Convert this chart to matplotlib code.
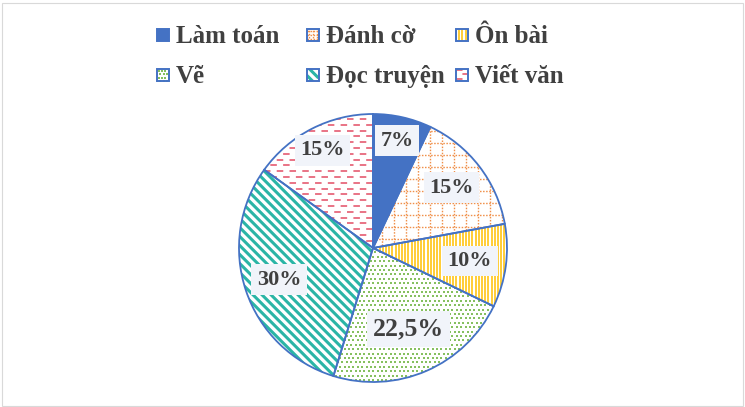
import matplotlib
matplotlib.use("Agg")
import numpy as np
import matplotlib.pyplot as plt
from matplotlib.patches import Rectangle
from matplotlib.collections import LineCollection

# dữ liệu
labels = ["Làm toán", "Đánh cờ", "Ôn bài", "Vẽ", "Đọc truyện", "Viết văn"]
values = [7, 15, 10, 22.5, 30, 15]
value_text = ["7%", "15%", "10%", "22,5%", "30%", "15%"]

# style
patterns = ["solid", "grid", "vlines", "dots", "diag", "dashes"]
label_dist = [0.82, 0.74, 0.73, 0.66, 0.74, 0.82]
label_size = [16, 16, 16, 18.5, 16, 16]
BLUE = "#4472C4"
TXT = "#404040"
W, H = 745, 407

plt.rcParams["lines.scale_dashes"] = False
plt.rcParams["font.family"] = ["Liberation Serif", "DejaVu Serif"]


def draw_pattern(ax, kind, clip, x0, x1, y0, y1, u, small=False):
    """Motif de remplissage clippé sur `clip` (u = unités data par pixel)."""
    arts = []
    if kind == "grid":
        step = (4 if small else 12) * u
        segs = [[(x, y0), (x, y1)] for x in np.arange(x0 + step / 2, x1, step)]
        segs += [[(x0, y), (x1, y)] for y in np.arange(y0 + step / 2, y1, step)]
        arts.append(LineCollection(segs, colors="#F0904A", linewidths=1.0,
                                   linestyles=[(0, (1.1, 1.1))]))
    elif kind == "vlines":
        segs = [[(x, y0), (x, y1)] for x in np.arange(x0, x1, 3.2 * u)]
        arts.append(LineCollection(segs, colors="#FFC000", linewidths=1.1))
    elif kind == "dots":
        xs, ys = [], []
        sp = (3.3 if small else 4.4) * u
        for i, y in enumerate(np.arange(y0, y1, sp)):
            off = sp / 2 if i % 2 else 0
            for x in np.arange(x0 + off, x1, sp):
                xs.append(x)
                ys.append(y)
        sc = ax.scatter(xs, ys, s=0.9, marker="s", color="#86C060", linewidths=0, zorder=2)
        sc.set_clip_path(clip)
    elif kind == "diag":
        segs = []
        for c in np.arange(x0 + y0 - (x1 - x0), x1 + y1, 9 * u):
            segs.append([(x0, c - x0), (x1, c - x1)])
        arts.append(LineCollection(segs, colors="#2BB5A6", linewidths=2.2))
    elif kind == "dashes":
        segs, styles = [], []
        row = (4.5 if small else 5.8) * u
        for i, y in enumerate(np.arange(y0 + row / 2, y1, row)):
            segs.append([(x0, y), (x1, y)])
            styles.append((4.6 if i % 2 else 0, (4.7, 4.5)))
        arts.append(LineCollection(segs, colors="#E7687C", linewidths=1.3, linestyles=styles))
    for a in arts:
        a.set_zorder(2)
        ax.add_collection(a)
        a.set_clip_path(clip)


fig = plt.figure(figsize=(W / 100, H / 100), dpi=100)
fig.add_artist(Rectangle((1.5 / W, 1.5 / H), 741 / W, 403 / H, transform=fig.transFigure,
                         fill=False, edgecolor="#D9D9D9", lw=0.8))

# camembert : centre (373, 248) px, rayon 134 px
cx, cy, rad = 373, 248, 134
R = 140 / rad
ax = fig.add_axes([(cx - 140) / W, (H - cy - 140) / H, 280 / W, 280 / H])
faces = [BLUE if p == "solid" else "none" for p in patterns]
wedges, _ = ax.pie(values, startangle=90, counterclock=False, radius=1, colors=faces,
                   wedgeprops=dict(edgecolor=BLUE, linewidth=1.3, zorder=3))
ax.set_xlim(-R, R)
ax.set_ylim(-R, R)
ax.set_aspect("equal")
ax.axis("off")

for w, kind in zip(wedges, patterns):
    draw_pattern(ax, kind, w, -1.05, 1.05, -1.05, 1.05, 1 / rad)

for w, txt, d, fs in zip(wedges, value_text, label_dist, label_size):
    ang = np.deg2rad((w.theta1 + w.theta2) / 2)
    ax.text(d * np.cos(ang), d * np.sin(ang), txt, ha="center", va="center",
            fontsize=fs, fontweight="bold", color=TXT, zorder=5,
            bbox=dict(boxstyle="square,pad=0.24", facecolor="#F1F4FA", edgecolor="none"))

# légende manuelle 3 colonnes x 2 lignes
col_x = [156, 305.5, 455]
row_base = [43, 83]
for i, (lab, kind) in enumerate(zip(labels, patterns)):
    r, c = divmod(i, 3)
    mx, base = col_x[c], row_base[r]
    lax = fig.add_axes([mx / W, (H - base + 1) / H, 14 / W, 14 / H])
    lax.set_xlim(0, 14)
    lax.set_ylim(0, 14)
    lax.axis("off")
    box = Rectangle((1, 1), 12, 12, facecolor=BLUE if kind == "solid" else "none",
                    edgecolor=BLUE, lw=1.4, zorder=3)
    lax.add_patch(box)
    draw_pattern(lax, kind, box, 1, 13, 1, 13, 1.0, small=True)
    fig.text((mx + 20) / W, 1 - base / H, lab, ha="left", va="baseline",
             fontsize=18, fontweight="bold", color=TXT)

fig.savefig("out.png", dpi=100)
